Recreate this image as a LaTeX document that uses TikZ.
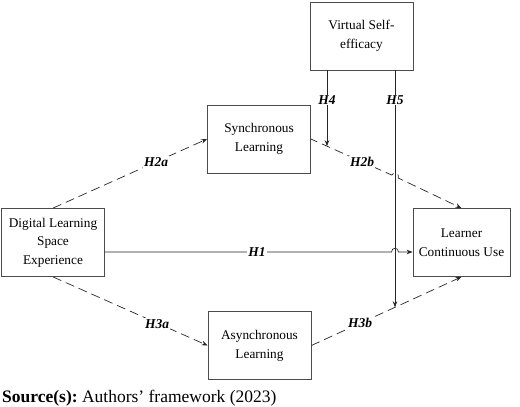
\documentclass[tikz,border=0pt]{standalone}
\usepackage{fontspec}
\setmainfont{Liberation Serif}
\frenchspacing
\usetikzlibrary{arrows.meta,calc}
\begin{document}
\begin{tikzpicture}[x=1pt,y=-1pt,
  box/.style={draw=black!70,line width=0.8pt,minimum width=103pt,minimum height=68pt,align=center,inner sep=2pt,font=\fontsize{13.3}{18.7}\selectfont},
  hyp/.style={fill=white,inner sep=1pt,font=\fontsize{13.5}{15}\selectfont\bfseries\itshape},
  conn/.style={draw=black!85,line width=0.7pt},
  dconn/.style={conn,dash pattern=on 9pt off 5pt},
  tip/.style={-{Stealth[length=6pt,width=4.5pt]}}]
\useasboundingbox (0,0) rectangle (520,407);
\node[box] (vse) at (361.5,36) {Virtual Self-\\efficacy};
\node[box] (sync) at (259,139) {Synchronous\\Learning};
\node[box] (dls) at (53,242.5) {Digital Learning\\Space\\Experience};
\node[box,minimum width=97pt] (lcu) at (461.5,242.5) {Learner\\Continuous Use};
\node[box] (async) at (259.5,345.5) {Asynchronous\\Learning};
% named points
\coordinate (h4top) at (327,70);
\coordinate (h4end) at (327,146.2);
\coordinate (h5top) at (395,70);
\coordinate (h5end) at (395,307.3);
\coordinate (h1a) at (391.5,252);
\coordinate (h1b) at (398.5,252);
\coordinate (h2ba) at (391.8,175.1);
\coordinate (h2bb) at (398.2,178.0);
% H1
\draw[conn,tip] (dls.east |- h1a) -- (h1a) .. controls (391.5,247) and (398.5,247) .. (h1b) -- (lcu.west |- h1b);
\node[hyp] (lh1) at (257,252) {H1};
% H2a
\draw[dconn,tip] (dls.north) -- (sync.west);
\node[hyp] (lh2a) at (156,162) {H2a};
% H2b
\draw[dconn,dash phase=2pt,tip] (sync.east) -- (h2ba) .. controls (393.6,170.6) and (400.0,173.5) .. (h2bb) -- (lcu.north);
\node[hyp] (lh2b) at (362,162) {H2b};
% H3a
\draw[dconn,tip] (dls.south) -- (async.west);
\node[hyp] (lh3a) at (157,324) {H3a};
% H3b
\draw[dconn,tip] (async.east) -- (lcu.south);
\node[hyp] (lh3b) at (360,323) {H3b};
% H4, H5
\draw[conn,tip] (h4top) -- (h4end);
\node[hyp] (lh4) at (327,100) {H4};
\draw[conn,tip] (h5top) -- (h5end);
\node[hyp] (lh5) at (395,100) {H5};
% source
\node[anchor=base west,inner sep=0pt,font=\fontsize{17.5}{20}\selectfont] (src) at (2,402.5) {\textbf{Source(s):} Authors’ framework (2023)};
\end{tikzpicture}
\end{document}
